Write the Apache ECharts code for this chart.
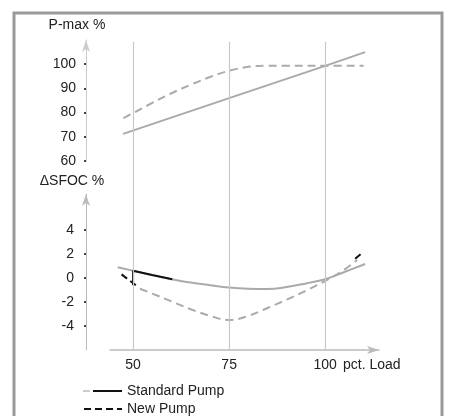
<!DOCTYPE html>
<html>
<head>
<meta charset="utf-8">
<script src="https://cdn.jsdelivr.net/npm/echarts@6/dist/echarts.min.js"></script>
<style>
  html, body { margin: 0; padding: 0; background: #fff; }
  #chart { width: 450px; height: 416px; }
</style>
</head>
<body>
<div id="chart"></div>
<script>
// load axis ticks
var loadTicks = [50, 75, 100];
var pmaxTicks = [60, 70, 80, 90, 100];
var sfocTicks = [-4, -2, 0, 2, 4];

// P-max %, [load, value]
var pmaxStandard = [[47.4, 71.2], [75, 86], [100, 99.3], [110.4, 105]];
var pmaxNew = [[47.5, 77.7], [50, 79.8], [55, 84], [60, 88], [65, 91.5], [70, 94.7], [75, 97.3], [80, 98.9], [85, 99.4], [90, 99.4], [100, 99.4], [110, 99.4]];

// delta SFOC %, [load, value]
var sfocStandard = [[46, 0.9], [50, 0.6], [55, 0.22], [60, -0.1], [65, -0.38], [70, -0.6], [75, -0.8], [80, -0.9], [85, -0.92], [90, -0.75], [95, -0.45], [100, -0.1], [105, 0.5], [110.4, 1.17]];
var sfocStandardBlack = [[50, -0.6], [50, 0.6], [55, 0.25], [60.2, -0.1]];
var sfocNew = [[51.8, -0.9], [55, -1.3], [60, -1.95], [65, -2.6], [70, -3.15], [75, -3.5], [80, -3.15], [85, -2.5], [90, -1.8], [95, -1.05], [100, -0.25], [105, 0.7], [108.3, 1.5]];
var sfocNewBlack = [[47, 0.3], [51.5, -0.8], ['-', '-'], [107.8, 1.6], [109.3, 2.0]];

var gray = '#aaaaaa';
var font = 'Liberation Sans';

var chart = echarts.init(document.getElementById('chart'));

chart.setOption({
  animation: false,
  textStyle: { fontFamily: font },
  grid: [
    { left: 110, width: 269, top: 40, height: 121 },
    { left: 110, width: 269, top: 194, height: 156 },
    { left: 110, width: 269, top: 42, height: 308 }
  ],
  xAxis: [
    { gridIndex: 0, type: 'value', min: 44, max: 114, show: false },
    {
      gridIndex: 1, type: 'value', min: 44, max: 114,
      axisLine: { onZero: false, lineStyle: { color: '#bbb', width: 1.5 }, symbol: ['none', 'arrow'], symbolSize: [6, 12] },
      axisTick: { show: false },
      splitLine: { show: false },
      axisLabel: { customValues: loadTicks, color: '#222', fontSize: 14, margin: 8 },
      name: 'pct. Load',
      nameLocation: 'end',
      nameGap: -36,
      nameTextStyle: { color: '#222', fontSize: 14, align: 'left', verticalAlign: 'top', padding: [8, 0, 0, 0] }
    },
    { gridIndex: 2, type: 'value', min: 44, max: 114, show: false }
  ],
  yAxis: [
    {
      gridIndex: 0, type: 'value', min: 60, max: 110, offset: 24,
      axisLine: { show: true, lineStyle: { color: '#ccc', width: 1 }, symbol: ['none', 'arrow'], symbolSize: [6, 12] },
      axisTick: { show: true, customValues: pmaxTicks, length: 2, lineStyle: { color: '#444', width: 2 } },
      splitLine: { show: false },
      axisLabel: {
        customValues: pmaxTicks, fontSize: 14, margin: 10,
        color: function (v) { return v === 100 ? '#bbb' : '#222'; }
      },
      name: 'P-max %',
      nameLocation: 'end',
      nameGap: 8,
      nameTextStyle: { color: '#222', fontSize: 14, padding: [0, 18, 0, 0] }
    },
    {
      gridIndex: 1, type: 'value', min: -6, max: 7, offset: 24,
      axisLine: { show: true, lineStyle: { color: '#bbb', width: 1 }, symbol: ['none', 'arrow'], symbolSize: [6, 12] },
      axisTick: { show: true, customValues: sfocTicks, length: 2, lineStyle: { color: '#444', width: 2 } },
      splitLine: { show: false },
      axisLabel: { customValues: sfocTicks, color: '#222', fontSize: 14, margin: 12 },
      name: 'ΔSFOC %',
      nameLocation: 'end',
      nameGap: 6,
      nameTextStyle: { color: '#222', fontSize: 14, padding: [0, 28, 0, 0] }
    },
    { gridIndex: 2, type: 'value', min: 0, max: 1, show: false }
  ],
  legend: {
    orient: 'vertical',
    left: 83,
    top: 384,
    height: 40,
    padding: 0,
    itemWidth: 38,
    itemHeight: 14,
    itemGap: 4,
    itemStyle: { opacity: 0 },
    textStyle: { color: '#222', fontSize: 14, fontFamily: font },
    data: ['Standard Pump', 'New Pump']
  },
  series: [
    {
      type: 'line', xAxisIndex: 2, yAxisIndex: 2, data: [], silent: true, z: 1,
      markLine: {
        silent: true, symbol: 'none', label: { show: false },
        lineStyle: { color: '#c8c8c8', width: 1.2, type: 'solid' },
        data: loadTicks.map(function (v) { return { xAxis: v }; })
      }
    },
    {
      name: 'pmax standard', type: 'line', xAxisIndex: 0, yAxisIndex: 0,
      data: pmaxStandard, symbol: 'none', lineStyle: { color: gray, width: 2 }
    },
    {
      name: 'pmax new', type: 'line', xAxisIndex: 0, yAxisIndex: 0, smooth: 0.4,
      data: pmaxNew, symbol: 'none', lineStyle: { color: gray, width: 2, type: [8, 5] }
    },
    {
      name: 'sfoc standard', type: 'line', xAxisIndex: 1, yAxisIndex: 1, smooth: 0.4,
      data: sfocStandard, symbol: 'none', lineStyle: { color: gray, width: 2 }
    },
    {
      name: 'sfoc new', type: 'line', xAxisIndex: 1, yAxisIndex: 1, smooth: 0.4,
      data: sfocNew, symbol: 'none', lineStyle: { color: gray, width: 2, type: [8, 5] }
    },
    {
      name: 'Standard Pump', type: 'line', xAxisIndex: 1, yAxisIndex: 1,
      data: sfocStandardBlack, symbol: 'none', color: '#111',
      lineStyle: { color: '#111', width: 2 }
    },
    {
      name: 'New Pump', type: 'line', xAxisIndex: 1, yAxisIndex: 1, connectNulls: false,
      data: sfocNewBlack, symbol: 'none', color: '#111',
      lineStyle: { color: '#111', width: 2, type: [7, 4] }
    }
  ],
  graphic: [
    {
      type: 'rect', silent: true,
      shape: { x: 14, y: 13, width: 428, height: 430 },
      style: { fill: 'none', stroke: '#999', lineWidth: 3 }
    },
    {
      type: 'line', silent: true, z: 200,
      shape: { x1: 83, y1: 391, x2: 93, y2: 391 },
      style: { stroke: '#fff', lineWidth: 4 }
    },
    {
      type: 'line', silent: true, z: 201,
      shape: { x1: 83, y1: 391, x2: 90, y2: 391 },
      style: { stroke: '#ccc', lineWidth: 2 }
    }
  ]
});
</script>
</body>
</html>
